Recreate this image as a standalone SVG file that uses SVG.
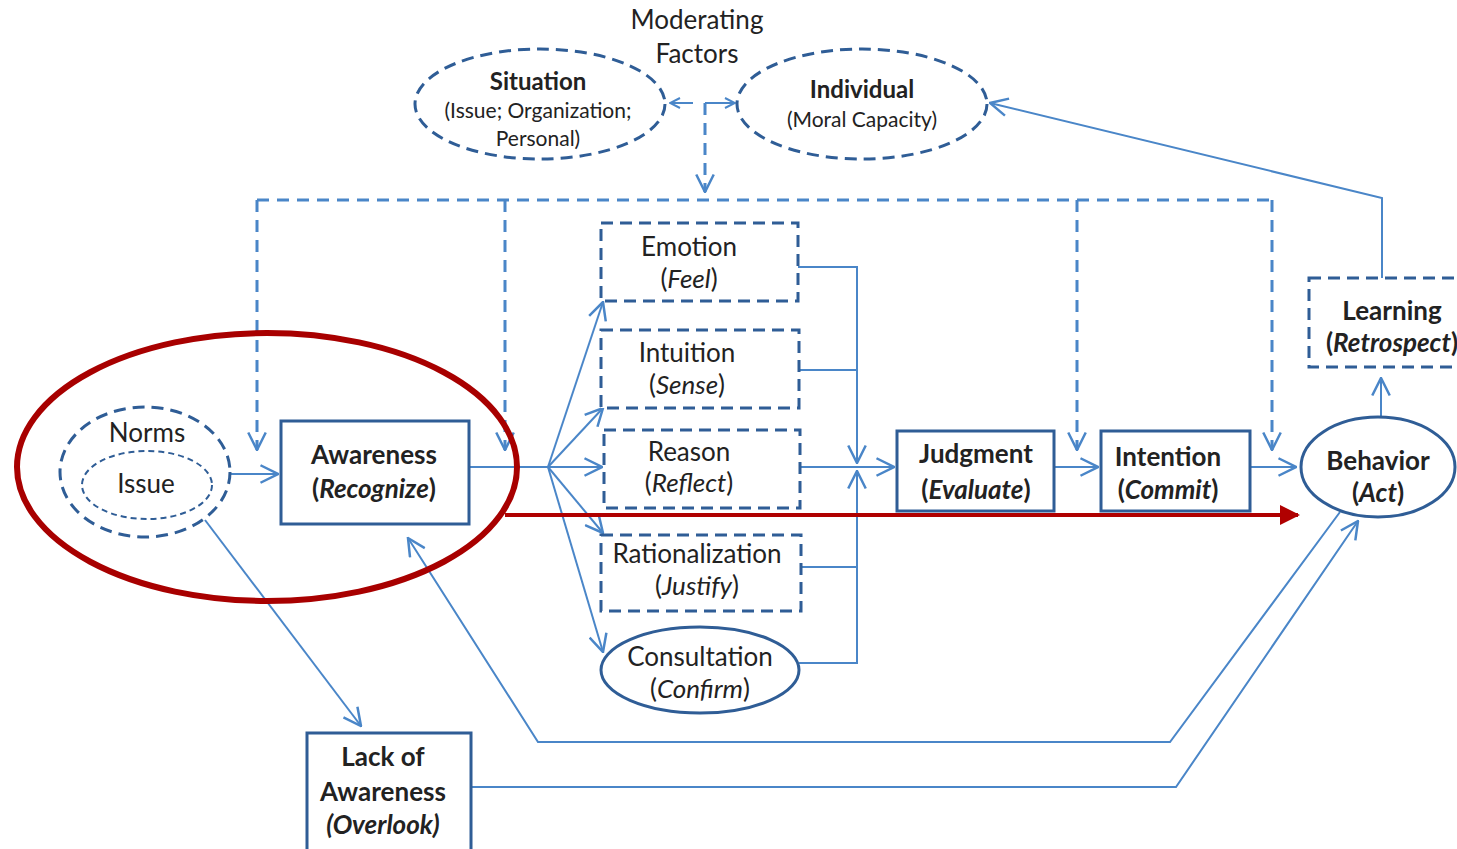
<svg xmlns="http://www.w3.org/2000/svg" width="1457" height="849" viewBox="0 0 1457 849">
<defs>
<marker id="ah" viewBox="0 0 12 12" refX="11" refY="6" markerWidth="12" markerHeight="12" markerUnits="userSpaceOnUse" orient="auto">
<path d="M1,1 L11,6 L1,11" fill="none" stroke="#4a86c8" stroke-width="2"/>
</marker>
<marker id="ahb" viewBox="0 0 16 16" refX="15" refY="8" markerWidth="20" markerHeight="20" markerUnits="userSpaceOnUse" orient="auto">
<path d="M1,1 L15,8 L1,15" fill="none" stroke="#4a86c8" stroke-width="2"/>
</marker>
<marker id="red" viewBox="0 0 10 10" refX="9" refY="5" markerWidth="22" markerHeight="20" markerUnits="userSpaceOnUse" orient="auto">
<path d="M0,0 L10,5 L0,10 Z" fill="#b00000"/>
</marker>
</defs>
<style>
.ln{fill:none;stroke:#4a86c8;stroke-width:2}
.dl{fill:none;stroke:#4a86c8;stroke-width:3;stroke-dasharray:12 8}
.nd{fill:#fff;stroke:#2f5d96;stroke-width:3}
.nds{fill:#fff;stroke:#2f5d96;stroke-width:3;stroke-dasharray:12 7}
.t{font-family:Lato,"Open Sans",sans-serif;font-size:26px;fill:#222;text-anchor:middle}
.b{font-weight:bold}
.s{font-size:21px}
.m{font-size:24px}
</style>
<rect width="1457" height="849" fill="#fff"/>
<g id="connectors">
<path class="dl" d="M257,200 H1272"/>
<path class="dl" d="M257,200 V450" marker-end="url(#ahb)"/>
<path class="dl" d="M505,200 V450" marker-end="url(#ahb)"/>
<path class="dl" d="M1077,200 V450" marker-end="url(#ahb)"/>
<path class="dl" d="M1272,200 V450" marker-end="url(#ahb)"/>
<path class="dl" d="M705,103 V192" marker-end="url(#ahb)"/>
<path class="ln" d="M705,103 H735" marker-end="url(#ah)"/>
<path class="ln" d="M693,103 H670" marker-end="url(#ah)"/>
<path class="ln" d="M230,474 H278" marker-end="url(#ahb)"/>
<path class="ln" d="M469,467 H548"/>
<path class="ln" d="M548,467 L603,302" marker-end="url(#ahb)"/>
<path class="ln" d="M548,467 L603,408" marker-end="url(#ahb)"/>
<path class="ln" d="M548,467 H602" marker-end="url(#ahb)"/>
<path class="ln" d="M548,467 L603,533" marker-end="url(#ahb)"/>
<path class="ln" d="M548,467 L603,652" marker-end="url(#ahb)"/>
<path class="ln" d="M798,267 H857 V463"/>
<path class="ln" d="M799,370 H857"/>
<path class="ln" d="M801,567 H857"/>
<path class="ln" d="M799,663 H857 V471"/>
<path class="ln" d="M857,452 V463" marker-end="url(#ahb)"/>
<path class="ln" d="M857,482 V471" marker-end="url(#ahb)"/>
<path class="ln" d="M800,467 H894" marker-end="url(#ahb)"/>
<path class="ln" d="M1054,467 H1098" marker-end="url(#ahb)"/>
<path class="ln" d="M1250,467 H1296" marker-end="url(#ahb)"/>
<path class="ln" d="M1381,418 V378" marker-end="url(#ahb)"/>
<path class="ln" d="M1382,278 V198 L990,103" marker-end="url(#ahb)"/>
<path class="ln" d="M1340,512 L1170,742 H538 L408,538" marker-end="url(#ahb)"/>
<path class="ln" d="M472,787 H1176 L1358,521" marker-end="url(#ahb)"/>
<path class="ln" d="M205,520 L361,726" marker-end="url(#ahb)"/>
<path d="M505,515 H1298" fill="none" stroke="#b00000" stroke-width="4" marker-end="url(#red)"/>
</g>
<g id="moderating"><text class="t" x="697" y="29">Moderating</text><text class="t" x="697" y="63">Factors</text></g>
<g id="situation"><ellipse class="nds" cx="540" cy="104" rx="125" ry="55"/>
<text class="t b m" x="538" y="90">Situation</text><text class="t s" x="538" y="118">(Issue; Organization;</text><text class="t s" x="538" y="146">Personal)</text></g>
<g id="individual"><ellipse class="nds" cx="862" cy="104" rx="125" ry="55"/>
<text class="t b m" x="862" y="98">Individual</text><text class="t s" x="862" y="127">(Moral Capacity)</text></g>
<g id="norms"><ellipse class="nds" cx="145" cy="472" rx="85" ry="65"/>
<text class="t" x="147" y="442">Norms</text>
<ellipse cx="147" cy="485" rx="65" ry="34" fill="#fff" stroke="#2f5d96" stroke-width="2" stroke-dasharray="6 4"/>
<text class="t" x="146" y="493">Issue</text></g>
<g id="awareness"><rect class="nd" x="281" y="421" width="188" height="103"/>
<text class="t b" x="374" y="464">Awareness</text><text class="t b" x="374" y="498">(<tspan font-style="italic">Recognize</tspan>)</text></g>
<g id="emotion"><rect class="nds" x="601" y="223" width="197" height="78"/>
<text class="t" x="689" y="256">Emotion</text><text class="t" x="689" y="288">(<tspan font-style="italic">Feel</tspan>)</text></g>
<g id="intuition"><rect class="nds" x="601" y="330" width="198" height="78"/>
<text class="t" x="687" y="362">Intuition</text><text class="t" x="687" y="394">(<tspan font-style="italic">Sense</tspan>)</text></g>
<g id="reason"><rect class="nds" x="604" y="430" width="196" height="78"/>
<text class="t" x="689" y="461">Reason</text><text class="t" x="689" y="492">(<tspan font-style="italic">Reflect</tspan>)</text></g>
<g id="rationalization"><rect class="nds" x="601" y="535" width="200" height="76"/>
<text class="t" x="697" y="563">Rationalization</text><text class="t" x="697" y="595">(<tspan font-style="italic">Justify</tspan>)</text></g>
<g id="consultation"><ellipse cx="700" cy="670" rx="99" ry="43" fill="#fff" stroke="#2f5d96" stroke-width="3"/>
<text class="t" x="700" y="666">Consultation</text><text class="t" x="700" y="698">(<tspan font-style="italic">Confirm</tspan>)</text></g>
<g id="judgment"><rect class="nd" x="897" y="431" width="157" height="80"/>
<text class="t b" x="976" y="463">Judgment</text><text class="t b" x="976" y="499">(<tspan font-style="italic">Evaluate</tspan>)</text></g>
<g id="intention"><rect class="nd" x="1101" y="431" width="149" height="80"/>
<text class="t b" x="1168" y="466">Intention</text><text class="t b" x="1168" y="499">(<tspan font-style="italic">Commit</tspan>)</text></g>
<g id="behavior"><ellipse class="nd" cx="1378" cy="467" rx="77" ry="50"/>
<text class="t b" x="1378" y="470">Behavior</text><text class="t b" x="1378" y="502">(<tspan font-style="italic">Act</tspan>)</text></g>
<g id="learning"><rect class="nds" x="1309" y="278" width="160" height="89"/>
<text class="t b" x="1392" y="320">Learning</text><text class="t b" x="1392" y="352">(<tspan font-style="italic">Retrospect</tspan>)</text></g>
<g id="lack"><rect class="nd" x="307" y="733" width="164" height="130"/>
<text class="t b" x="383" y="766">Lack of</text><text class="t b" x="383" y="801">Awareness</text><text class="t b" x="383" y="834" font-style="italic">(Overlook)</text></g>
<ellipse id="highlight" cx="267" cy="467" rx="250" ry="134" fill="none" stroke="#a80000" stroke-width="6"/>
</svg>
